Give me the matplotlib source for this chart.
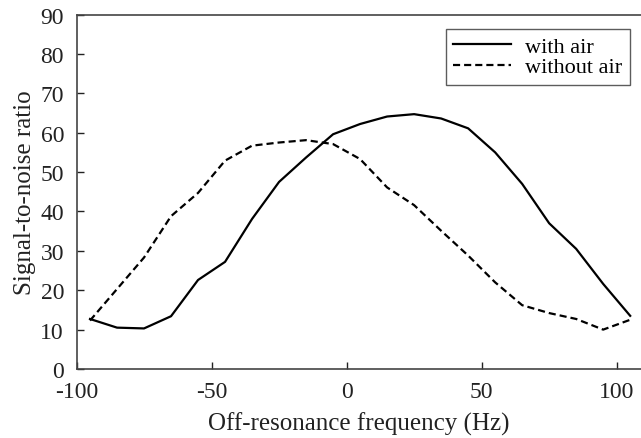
import matplotlib
matplotlib.use("Agg")
import matplotlib.pyplot as plt

freq = [-95, -85, -75, -65, -55, -45, -35, -25, -15, -5, 5, 15, 25, 35, 45, 55, 65, 75, 85, 95, 105]
with_air = [12.7, 10.5, 10.3, 13.4, 22.6, 27.2, 38.1, 47.5, 53.7, 59.6, 62.2, 64.1, 64.7, 63.6, 61.1,
            55.0, 47.0, 37.0, 30.5, 21.6, 13.5]
without_air = [12.3, 20.3, 28.3, 38.8, 44.7, 52.9, 56.7, 57.5, 58.1, 57.1, 53.3, 46.1, 41.6, 35.1, 28.8,
               22.0, 16.2, 14.2, 12.7, 10.0, 12.5]
xticks = [-100, -50, 0, 50, 100]
yticks = list(range(0, 91, 10))

plt.rcParams['font.family'] = ['Liberation Serif', 'DejaVu Serif']
plt.rcParams['axes.unicode_minus'] = False

fig = plt.figure(figsize=(6.41, 4.39), dpi=100)
ax = fig.add_axes([76.5 / 641, 69 / 439, 1 - 76.5 / 641, (370 - 15.5) / 439])

ax.plot(freq, with_air, color='black', lw=1.6, label='with air')
ax.plot(freq, without_air, color='black', lw=1.6, ls=(0, (3.2, 1.8)), label='without air')

ax.set_xlim(-100, 109)
ax.set_ylim(0, 90)
ax.set_xticks(xticks)
ax.set_yticks(yticks)
ax.tick_params(direction='in', length=5, width=1, labelsize=17, colors='#222222')
ax.tick_params(axis='x', pad=8.5)
ax.tick_params(axis='y', pad=9)
for s in ['left', 'bottom', 'top']:
    ax.spines[s].set_color('#444444')
    ax.spines[s].set_linewidth(1.2)
ax.spines['right'].set_visible(False)

ax.set_xlabel('Off-resonance frequency (Hz)', fontsize=18, color='#222222', labelpad=7)
ax.set_ylabel('Signal-to-noise ratio', fontsize=18, color='#222222', labelpad=3)

leg = ax.legend(loc='upper right', frameon=True,
                fontsize=16, handlelength=2.6, borderpad=0.35, labelspacing=0.0,
                handletextpad=0.6, borderaxespad=0, fancybox=False)
leg.set_bbox_to_anchor((629.5 / 641, 1 - 29.5 / 439), transform=fig.transFigure)
leg.get_frame().set_edgecolor('#333333')
leg.get_frame().set_linewidth(1.0)

fig.savefig('out.png', dpi=100)
